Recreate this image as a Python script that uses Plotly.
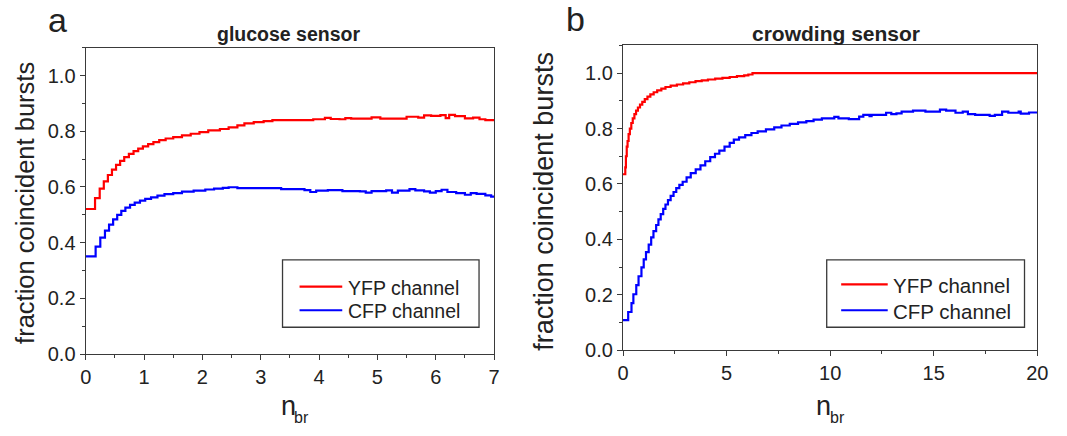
import plotly.graph_objects as go

W, H = 1067, 436
FONT = "Liberation Sans, Arial, sans-serif"
INK = "#222222"
FRAME = "#3a3a3a"

# ---- panel a: glucose sensor (step curves, value holds until next x) ----
glu_yfp_x = [0, 0.16, 0.24, 0.31, 0.38, 0.45, 0.52, 0.59, 0.66, 0.74, 0.82, 0.90,
             0.98, 1.07, 1.16, 1.26, 1.37, 1.5, 1.65, 1.8, 1.95, 2.1, 2.3, 2.45,
             2.6, 2.72, 2.88, 3.05, 3.2, 3.9, 4.1, 4.2, 4.35, 4.45, 4.55, 4.9,
             5.05, 5.5, 5.7, 5.8, 5.92, 6.08, 6.17, 6.23, 6.33, 6.5, 6.64, 6.75,
             6.85, 7.0]
glu_yfp_y = [0.521, 0.560, 0.594, 0.620, 0.643, 0.662, 0.679, 0.694, 0.707, 0.719,
             0.729, 0.738, 0.746, 0.754, 0.761, 0.768, 0.774, 0.779, 0.785, 0.791,
             0.797, 0.803, 0.808, 0.814, 0.821, 0.828, 0.833, 0.836, 0.840, 0.843,
             0.848, 0.844, 0.843, 0.847, 0.845, 0.850, 0.845, 0.852, 0.849, 0.857,
             0.855, 0.858, 0.847, 0.859, 0.854, 0.846, 0.849, 0.843, 0.840, 0.840]

glu_cfp_x = [0, 0.17, 0.25, 0.33, 0.40, 0.47, 0.54, 0.61, 0.68, 0.76, 0.84, 0.93,
             1.02, 1.12, 1.23, 1.35, 1.5, 1.65, 1.85, 2.05, 2.2, 2.35, 2.45, 2.6,
             3.2, 3.35, 3.75, 3.85, 3.95, 4.15, 4.4, 4.7, 4.8, 4.9, 5.15, 5.25,
             5.35, 5.55, 5.65, 5.8, 5.9, 6.0, 6.1, 6.2, 6.35, 6.5, 6.6, 6.7, 6.85,
             6.95, 7.0]
glu_cfp_y = [0.351, 0.386, 0.418, 0.443, 0.465, 0.484, 0.500, 0.514, 0.526, 0.536,
             0.544, 0.551, 0.557, 0.563, 0.569, 0.574, 0.578, 0.583, 0.587, 0.591,
             0.594, 0.597, 0.599, 0.596, 0.596, 0.592, 0.589, 0.582, 0.587, 0.589,
             0.585, 0.584, 0.580, 0.585, 0.588, 0.580, 0.587, 0.592, 0.588, 0.584,
             0.580, 0.585, 0.590, 0.582, 0.578, 0.572, 0.578, 0.575, 0.570, 0.565,
             0.565]

# ---- panel b: crowding sensor ----
crowd_yfp_x = [0, 0.11, 0.14, 0.18, 0.22, 0.27, 0.33, 0.40, 0.47, 0.55, 0.63, 0.72,
               0.82, 0.93, 1.05, 1.18, 1.32, 1.48, 1.65, 1.85, 2.05, 2.3, 2.6, 2.9,
               3.2, 3.5, 3.8, 4.1, 4.45, 4.8, 5.15, 5.5, 5.85, 6.05, 6.25, 20.0]
crowd_yfp_y = [0.635, 0.660, 0.700, 0.735, 0.755, 0.780, 0.800, 0.820, 0.837, 0.852,
               0.865, 0.876, 0.886, 0.896, 0.906, 0.915, 0.923, 0.931, 0.938, 0.944,
               0.950, 0.955, 0.959, 0.963, 0.967, 0.971, 0.974, 0.977, 0.980, 0.983,
               0.986, 0.989, 0.992, 0.995, 1.0, 1.0]

crowd_cfp_x = [0, 0.25, 0.41, 0.50, 0.64, 0.75, 0.89, 1.0, 1.11, 1.24, 1.36, 1.47,
               1.60, 1.71, 1.82, 1.94, 2.05, 2.17, 2.30, 2.44, 2.57, 2.72, 2.88,
               3.07, 3.27, 3.51, 3.74, 3.97, 4.21, 4.44, 4.65, 4.9, 5.15, 5.35, 5.6,
               5.9, 6.2, 6.5, 6.9, 7.3, 7.65, 8.05, 8.45, 8.85, 9.2, 9.6, 10.2, 10.4,
               10.9, 11.4, 11.6, 11.9, 12.0, 12.7, 12.95, 13.2, 13.45, 14.0, 14.6,
               15.3, 15.6, 16.05, 16.4, 16.65, 17.0, 17.7, 17.95, 18.3, 18.6, 19.1,
               19.2, 19.6, 20.0]
crowd_cfp_y = [0.109, 0.138, 0.170, 0.202, 0.235, 0.267, 0.299, 0.328, 0.354, 0.381,
               0.407, 0.430, 0.452, 0.472, 0.491, 0.510, 0.526, 0.542, 0.557, 0.571,
               0.585, 0.597, 0.608, 0.624, 0.639, 0.653, 0.667, 0.682, 0.697, 0.709,
               0.720, 0.735, 0.748, 0.760, 0.768, 0.776, 0.784, 0.790, 0.797, 0.804,
               0.811, 0.817, 0.822, 0.827, 0.832, 0.837, 0.842, 0.837, 0.834, 0.843,
               0.849, 0.845, 0.849, 0.857, 0.852, 0.855, 0.861, 0.865, 0.861, 0.868,
               0.865, 0.857, 0.861, 0.852, 0.849, 0.846, 0.849, 0.861, 0.857, 0.861,
               0.854, 0.858, 0.858]

y_ticks = [0.0, 0.2, 0.4, 0.6, 0.8, 1.0]
glu_x_ticks = [0, 1, 2, 3, 4, 5, 6, 7]
crowd_x_ticks = [0, 5, 10, 15, 20]
series_names = ["YFP channel", "CFP channel"]
series_colors = ["#ff0000", "#0000ff"]


def px_x(p):
    return p / W


def px_y(p):
    return 1 - p / H


fig = go.Figure()

for xs, ys, name, color in [(glu_yfp_x, glu_yfp_y, series_names[0], series_colors[0]),
                            (glu_cfp_x, glu_cfp_y, series_names[1], series_colors[1])]:
    fig.add_trace(go.Scatter(x=xs, y=ys, mode="lines", name=name,
                             line=dict(color=color, width=2.2, shape="hv"),
                             xaxis="x", yaxis="y", showlegend=False))

for xs, ys, name, color in [(crowd_yfp_x, crowd_yfp_y, series_names[0], series_colors[0]),
                            (crowd_cfp_x, crowd_cfp_y, series_names[1], series_colors[1])]:
    fig.add_trace(go.Scatter(x=xs, y=ys, mode="lines", name=name,
                             line=dict(color=color, width=2.2, shape="hv"),
                             xaxis="x2", yaxis="y2", showlegend=False))


def xaxis_style(dom, rng, ticks, minor_step, anchor):
    return dict(domain=dom, range=rng, anchor=anchor, tickmode="array", tickvals=ticks,
                ticktext=[str(t) for t in ticks],
                ticks="outside", ticklen=5, tickwidth=1.3, tickcolor=FRAME,
                minor=dict(ticks="outside", ticklen=3, tickwidth=1.2,
                           tickcolor=FRAME, dtick=minor_step, tick0=0),
                showline=True, linecolor=FRAME, linewidth=1.3, mirror=True,
                showgrid=False, zeroline=False,
                tickfont=dict(family=FONT, size=20, color=INK))


def yaxis_style(dom, anchor):
    return dict(domain=dom, range=[0, 1.1], anchor=anchor, tickmode="array",
                tickvals=y_ticks, ticktext=[f"{t:.1f}" for t in y_ticks],
                ticks="outside", ticklen=5, tickwidth=1.3, tickcolor=FRAME,
                minor=dict(ticks="outside", ticklen=3, tickwidth=1.2,
                           tickcolor=FRAME, dtick=0.1, tick0=0),
                showline=True, linecolor=FRAME, linewidth=1.3, mirror=True,
                showgrid=False, zeroline=False,
                tickfont=dict(family=FONT, size=20, color=INK))


fig.update_layout(
    width=W, height=H, autosize=False,
    margin=dict(l=0, r=0, t=0, b=0),
    paper_bgcolor="white", plot_bgcolor="white",
    font=dict(family=FONT, color=INK),
    xaxis=xaxis_style([px_x(81), px_x(496)], [0, 7], glu_x_ticks, 0.5, "y"),
    yaxis=yaxis_style([px_y(363.3), px_y(48.9)], "x"),
    xaxis2=xaxis_style([px_x(627), px_x(1048)], [0, 20], crowd_x_ticks, 2.5, "y2"),
    yaxis2=yaxis_style([px_y(359.3), px_y(46.6)], "x2"),
    showlegend=False,
)

# legend boxes: frame, line samples and labels
legend_boxes = [
    # (box x0, x1, y0, y1, sample x0, x1, row y for each series, text x, font size)
    (281.0, 480.7, 266.7, 335.7, 298.3, 341.7, [294.0, 318.3], 345.5, 19.5),
    (834.0, 1035.0, 266.7, 335.7, 848.7, 896.0, [291.7, 318.3], 899.5, 20.5),
]
for bx0, bx1, by0, by1, sx0, sx1, rows, tx, fs in legend_boxes:
    fig.add_shape(type="rect", xref="paper", yref="paper",
                  x0=px_x(bx0), x1=px_x(bx1), y0=px_y(by1), y1=px_y(by0),
                  line=dict(color=FRAME, width=1.3))
    for name, color, ry in zip(series_names, series_colors, rows):
        fig.add_shape(type="line", xref="paper", yref="paper",
                      x0=px_x(sx0), x1=px_x(sx1), y0=px_y(ry), y1=px_y(ry),
                      line=dict(color=color, width=2.2))
        fig.add_annotation(text=name, xref="paper", yref="paper",
                           x=px_x(tx), y=px_y(ry + 1.2), xanchor="left",
                           yanchor="middle", showarrow=False,
                           font=dict(family=FONT, size=fs, color=INK))

annotations = [
    dict(text="a", x=px_x(52), y=px_y(21), font=dict(size=34)),
    dict(text="b", x=px_x(579), y=px_y(20), font=dict(size=34)),
    dict(text="<b>glucose sensor</b>", x=px_x(287), y=px_y(34.5), font=dict(size=19.5)),
    dict(text="<b>crowding sensor</b>", x=px_x(843), y=px_y(34), font=dict(size=21)),
    dict(text="fraction coincident bursts", x=px_x(20), y=px_y(208.5),
         textangle=-90, font=dict(size=25.5)),
    dict(text="fraction coincident bursts", x=px_x(547), y=px_y(206.7),
         textangle=-90, font=dict(size=27)),
    # x-axis titles: n with subscript br
    dict(text="n", x=px_x(287), y=px_y(416), font=dict(size=27)),
    dict(text="br", x=px_x(300.5), y=px_y(428), font=dict(size=16)),
    dict(text="n", x=px_x(831), y=px_y(416), font=dict(size=27)),
    dict(text="br", x=px_x(845), y=px_y(428), font=dict(size=16)),
]
for a in annotations:
    a.update(xref="paper", yref="paper", showarrow=False,
             xanchor="center", yanchor="middle")
    a["font"].update(family=FONT, color=INK)
    fig.add_annotation(**a)

fig.write_html("out.html")
